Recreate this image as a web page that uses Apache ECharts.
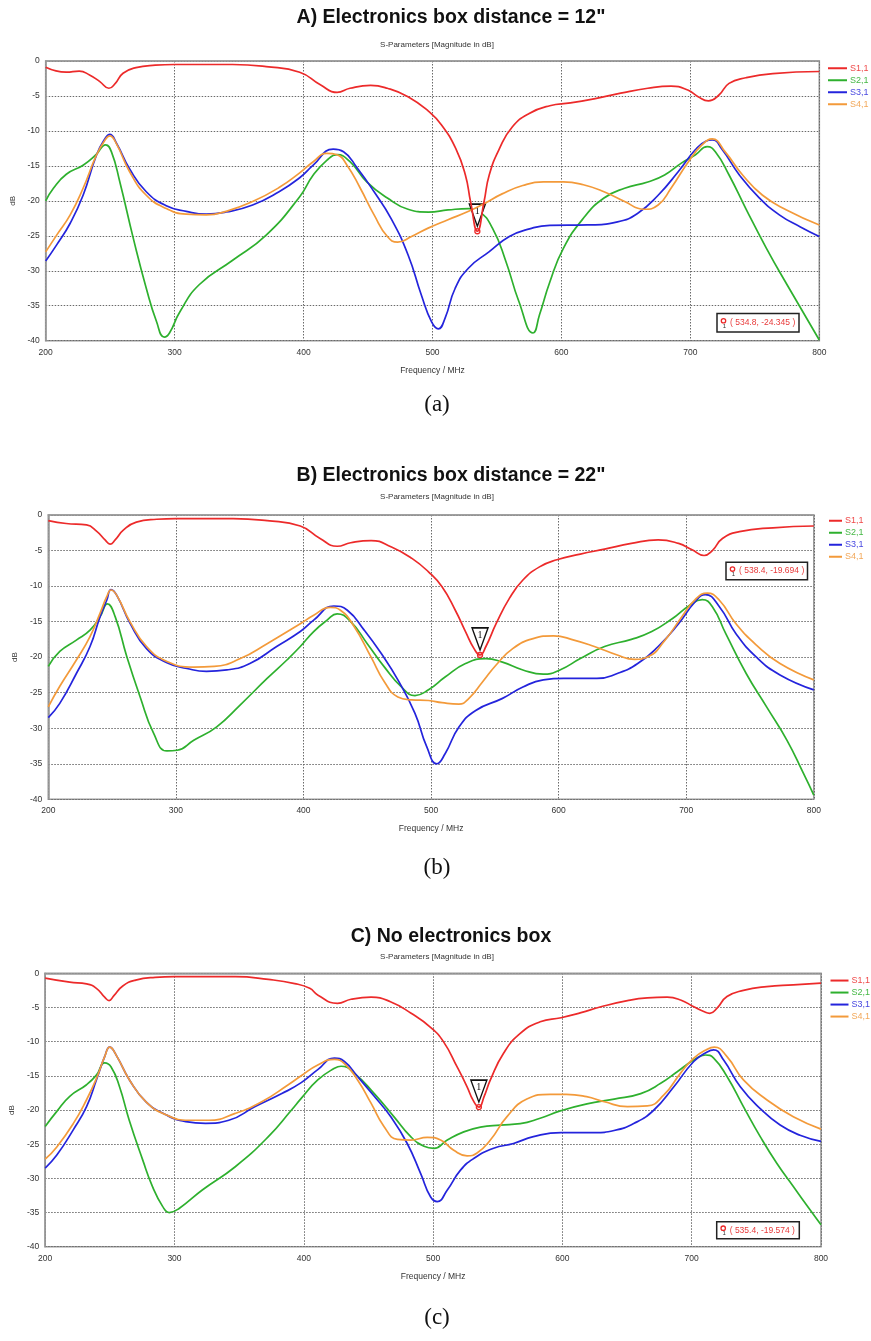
<!DOCTYPE html>
<html>
<head>
<meta charset="utf-8">
<script src="https://cdn.jsdelivr.net/npm/echarts@6/dist/echarts.min.js"></script>
<style>
  html, body { margin: 0; padding: 0; background: #ffffff; }
  #chart { width: 871px; height: 1341px; }
</style>
</head>
<body>
<div id="chart"></div>
<script>
// Frequency axis (MHz) and magnitude axis (dB) ticks
const freqTicks = [200, 300, 400, 500, 600, 700, 800];
const dbTicks = [0, -5, -10, -15, -20, -25, -30, -35, -40];
const seriesNames = ['S1,1', 'S2,1', 'S3,1', 'S4,1'];

// ---- A) Electronics box distance = 12"  : [MHz, dB]
const a_s11 = [[200,-0.9],[216,-1.6],[226,-1.45],[234,-2.0],[242,-2.95],[249,-3.9],[254,-3.2],[260,-1.75],[270,-0.95],[285,-0.6],[300,-0.5],[345,-0.5],[371,-0.8],[397,-1.6],[413,-3.4],[426,-4.5],[436,-3.9],[452,-3.5],[465,-3.9],[481,-5.1],[497,-7.2],[507,-9.15],[518,-12.5],[525.5,-16.3],[529.5,-20.1],[534.8,-24.345],[540,-20.1],[544,-16.3],[552,-12.5],[562,-9.4],[575,-7.5],[591,-6.4],[607,-6.0],[628,-5.3],[646,-4.6],[667,-3.9],[685,-3.6],[698,-4.15],[706,-5.1],[714,-5.7],[722,-4.9],[730,-3.2],[743,-2.4],[764,-1.8],[800,-1.5]];
const a_s21 = [[200,-20.0],[206,-18.2],[216,-16.2],[229,-14.9],[239,-13.4],[246.5,-12.0],[251,-13.0],[257.5,-17.3],[268,-25.4],[278,-32.5],[286,-37.3],[292,-39.5],[296,-38.9],[304,-35.9],[319,-32.0],[345,-28.5],[371,-24.9],[397,-19.4],[407.5,-16.3],[418,-14.2],[426,-13.4],[436,-14.4],[449,-17.3],[465,-19.6],[481,-21.2],[497,-21.6],[512,-21.3],[528,-21.1],[536,-21.5],[546.5,-23.9],[557,-28.7],[567,-34.4],[578,-38.9],[583,-36.3],[591,-31.6],[601.5,-26.8],[617,-22.5],[633,-19.6],[649,-18.2],[667,-17.3],[680,-16.3],[693,-14.6],[704,-13.4],[713,-12.25],[719.5,-13.0],[730,-16.3],[743,-21.1],[759,-26.8],[775,-32.0],[800,-39.9]];
const a_s31 = [[200,-28.6],[208.5,-26.3],[219,-23.2],[229,-19.2],[239.5,-13.4],[246,-11.1],[249.7,-10.5],[255,-11.8],[265,-15.4],[278,-18.7],[293.5,-20.7],[309,-21.5],[324.5,-21.9],[340,-21.6],[360.5,-20.6],[381,-18.7],[397,-16.7],[407.5,-14.9],[423,-12.6],[431,-12.97],[441.6,-15.3],[454.7,-18.7],[467.8,-22.5],[481,-27.7],[491.4,-33.5],[499.3,-37.3],[504.5,-38.3],[509.7,-36.8],[517.6,-32.5],[528,-29.6],[543.8,-27.3],[559.6,-25.1],[575.3,-24.0],[591,-23.5],[620,-23.45],[643.5,-23.0],[659,-21.8],[675,-19.2],[690.7,-15.8],[703.8,-12.7],[711.6,-11.5],[717,-11.3],[724.8,-12.7],[738,-16.3],[753.6,-19.6],[769,-22.0],[785,-23.7],[800,-25.1]];
const a_s41 = [[200,-27.3],[208.5,-24.9],[219,-22.0],[229,-18.2],[239.5,-13.4],[246,-11.3],[249.7,-10.7],[255,-11.9],[265,-15.8],[278,-19.2],[293.5,-21.1],[309,-21.9],[324.5,-22.0],[340,-21.5],[360.5,-20.1],[381,-18.1],[397,-16.0],[407.5,-14.4],[418,-13.2],[426,-13.4],[433.7,-14.9],[444,-18.2],[454.7,-22.0],[465,-25.1],[473,-25.9],[483.7,-25.1],[496.6,-23.9],[512,-22.7],[528,-21.5],[540,-20.4],[554,-19.0],[570,-17.8],[586,-17.3],[601.5,-17.3],[617,-17.7],[633,-18.7],[649,-20.1],[664,-21.2],[675,-20.6],[685,-18.2],[698.5,-14.4],[709,-12.0],[717,-11.15],[727,-13.0],[740.5,-16.3],[756,-19.2],[774.6,-21.3],[800,-23.45]];
const markerA = [534.8, -24.345];

// ---- B) Electronics box distance = 22"
const b_s11 = [[200,-0.8],[214,-1.2],[230,-1.4],[238,-2.3],[244.5,-3.5],[248.4,-4.1],[252.4,-3.5],[259,-2.1],[269,-1.0],[285,-0.6],[300,-0.5],[345,-0.5],[371.5,-0.8],[397.5,-1.55],[413,-3.3],[426.4,-4.4],[437,-3.9],[453,-3.6],[469,-4.5],[485,-6.1],[498,-8.0],[508.6,-10.1],[519,-13.4],[527,-16.4],[533.7,-18.8],[538.4,-19.694],[543,-18.5],[551,-15.3],[561.5,-11.7],[572,-9.15],[585,-7.3],[598.6,-6.3],[617,-5.5],[636,-4.8],[657,-4.0],[678,-3.5],[694,-4.0],[704.6,-4.9],[714,-5.7],[720.5,-5.0],[728.4,-3.3],[741.7,-2.35],[768,-1.8],[800,-1.55]];
const b_s21 = [[200,-21.3],[209,-19.2],[222,-17.6],[232.7,-16.2],[240.6,-14.3],[246.3,-12.5],[252.4,-14.3],[261.5,-19.9],[272,-25.6],[282.5,-30.7],[293,-33.2],[301,-33.1],[314,-31.7],[332,-29.8],[350.5,-26.7],[371.5,-23.0],[387,-20.4],[397.5,-18.5],[408,-16.4],[418.5,-14.8],[426.4,-13.9],[437,-15.0],[450,-18.1],[463.5,-21.4],[476.8,-24.2],[487.4,-25.4],[498,-24.6],[511,-22.8],[527,-20.9],[543,-20.2],[556,-20.7],[572,-21.8],[588,-22.4],[601,-21.8],[617,-20.2],[636,-18.5],[657,-17.5],[673,-16.4],[689,-14.6],[702,-12.8],[712.5,-11.9],[720.5,-12.9],[731,-16.7],[747,-22.3],[763,-27.0],[779,-31.7],[792,-36.4],[800,-39.4]];
const b_s31 = [[200,-28.5],[209,-26.5],[222,-22.3],[232.7,-18.5],[240.6,-14.3],[245.8,-12.0],[249.2,-10.5],[253.7,-11.3],[264,-15.2],[277,-18.8],[293,-20.8],[308.6,-21.6],[324,-22.0],[340,-21.8],[358,-20.9],[379,-18.5],[397.5,-16.4],[408,-14.8],[423.8,-12.8],[434.4,-13.4],[447.6,-16.2],[461,-19.5],[474,-23.2],[487.4,-27.9],[496.6,-32.6],[504.6,-35.0],[511,-33.6],[522,-29.8],[535,-27.5],[556,-25.8],[572,-24.2],[588,-23.2],[604,-23.0],[630,-23.0],[646,-22.3],[662,-20.9],[678,-18.5],[694,-15.3],[707,-12.2],[715,-11.2],[726,-12.9],[739,-16.7],[755,-20.0],[773.5,-22.5],[800,-24.6]];
const b_s41 = [[200,-27.0],[209,-24.1],[222,-20.4],[232.7,-17.1],[240.6,-13.8],[245.8,-11.5],[249.2,-10.55],[253.7,-11.3],[264,-15.0],[277,-18.5],[293,-20.6],[314,-21.4],[330,-21.3],[350.5,-20.2],[371.5,-18.1],[397.5,-15.3],[408,-14.1],[421,-13.0],[429,-13.4],[439.7,-15.7],[453,-20.0],[463.5,-23.5],[474,-25.6],[484.7,-26.0],[498,-26.1],[508.6,-26.4],[521.8,-26.6],[529.7,-25.8],[540.3,-23.5],[551,-21.1],[564,-18.8],[580,-17.4],[596,-17.0],[612,-17.6],[628,-18.5],[646,-19.7],[659.5,-20.3],[670,-19.95],[683.4,-17.6],[696.6,-14.3],[707,-11.9],[716.5,-11.0],[726,-12.0],[739,-15.3],[755,-18.3],[773.5,-20.9],[800,-23.2]];
const markerB = [538.4, -19.694];

// ---- C) No electronics box
const c_s11 = [[200,-0.7],[219,-1.3],[232,-1.55],[239.6,-2.2],[246,-3.5],[249.4,-4.0],[253,-3.3],[260,-1.85],[270,-1.0],[285,-0.6],[300,-0.5],[347,-0.5],[372.6,-0.9],[393,-1.5],[404.6,-2.2],[411,-3.2],[426,-4.4],[436.5,-3.8],[452,-3.5],[467,-4.15],[483,-5.85],[498,-7.9],[508,-10.0],[518.6,-13.7],[526.3,-16.6],[531,-18.6],[535.4,-19.574],[539.5,-18.0],[544.3,-15.6],[554.5,-11.7],[567.4,-8.8],[582.8,-7.1],[599,-6.5],[614.4,-5.75],[629.8,-4.9],[650.3,-4.0],[665.7,-3.6],[681,-3.5],[691.4,-3.9],[701.6,-4.9],[709.3,-5.6],[714,-5.85],[719.6,-5.1],[727.3,-3.4],[740,-2.5],[758,-1.95],[778.6,-1.7],[800,-1.45]];
const c_s21 = [[200,-22.4],[209,-20.2],[219,-18.0],[232,-16.3],[239.6,-14.9],[246,-13.1],[251,-13.7],[257.5,-16.6],[265,-21.5],[275.4,-27.3],[283,-31.2],[290.8,-34.1],[296,-35.0],[303.6,-34.4],[321.5,-31.7],[347,-28.3],[372.6,-23.9],[390.5,-20.0],[398,-18.3],[410.8,-15.6],[423.7,-13.9],[428.8,-13.6],[439,-14.6],[454.5,-17.6],[469.8,-21.0],[482.7,-23.9],[493,-25.3],[500.6,-25.6],[511,-24.4],[523.7,-23.2],[536.6,-22.5],[552,-22.2],[567.4,-22.0],[582.8,-21.2],[599,-20.1],[619,-19.1],[640,-18.4],[660.6,-17.6],[676,-16.1],[688.8,-14.4],[701.6,-12.7],[710.6,-11.95],[717,-12.4],[727.3,-15.1],[740,-19.5],[753,-23.9],[765.8,-27.8],[778.6,-31.2],[791.5,-34.6],[800,-36.8]];
const c_s31 = [[200,-28.5],[209,-26.6],[221.7,-22.9],[232,-19.5],[239.6,-15.6],[246,-12.2],[249.9,-10.8],[255,-12.0],[265.2,-15.6],[278,-18.8],[293.4,-20.7],[308.7,-21.7],[324,-21.95],[342,-21.5],[362.4,-19.5],[383,-17.6],[398,-16.0],[410.8,-14.1],[423.7,-12.4],[431.4,-12.9],[441.6,-15.1],[454.5,-18.0],[467.3,-21.0],[480,-24.9],[490.4,-29.3],[498,-32.7],[503.2,-33.4],[511,-31.7],[521.2,-28.8],[531.4,-27.1],[546.8,-25.6],[562.2,-24.9],[577.6,-23.9],[599,-23.3],[625,-23.3],[640,-23.0],[655.5,-21.95],[670.8,-20.0],[686.2,-16.6],[701.6,-12.9],[712,-11.5],[717,-11.2],[724.7,-12.7],[737.6,-16.6],[753,-19.8],[768.4,-22.2],[783.8,-23.7],[800,-24.6]];
const c_s41 = [[200,-27.2],[209,-25.4],[221.7,-22.0],[232,-18.5],[239.6,-15.4],[246,-12.2],[249.9,-10.8],[255,-12.0],[265.2,-15.6],[278,-18.8],[293.4,-20.7],[311,-21.5],[326.6,-21.5],[347,-20.5],[367.5,-18.8],[388,-16.3],[398,-15.0],[410.8,-13.4],[423.7,-12.6],[431.4,-13.2],[441.6,-15.6],[452,-19.0],[462,-22.4],[472.4,-24.3],[482.7,-24.4],[495.5,-24.0],[505.8,-24.4],[516,-25.9],[526.3,-26.7],[534,-26.3],[544.3,-24.4],[557,-21.0],[572.5,-18.4],[590.5,-17.7],[603,-17.7],[618.7,-18.05],[632.4,-18.8],[650.3,-19.5],[665.7,-19.4],[678.5,-17.8],[691.4,-14.6],[701.6,-12.4],[712,-11.1],[717.5,-10.8],[727.3,-12.2],[740,-15.6],[758,-18.5],[778.6,-21.0],[800,-22.8]];
const markerC = [535.4, -19.574];

// ---------------------------------------------------------------
const lineColors = ['#ec2a2a', '#2eb02e', '#2424dc', '#f39a3a'];
const legendTextColors = ['#ef4a4a', '#45b845', '#4848e0', '#f2a85a'];
const sansFont = '"Liberation Sans", Arial, sans-serif';
const serifFont = '"Liberation Serif", "DejaVu Serif", serif';

const panels = [
  { title: 'A) Electronics box distance = 12"', titleY: 18, subY: 45, caption: '(a)', capY: 405,
    grid: { left: 45.7, top: 61, width: 773.6, height: 279.7 },
    legend: { left: 828, top: 63, line: 19 },
    readout: { x: 717, y: 313.5, w: 82, h: 18.5 },
    data: [a_s11, a_s21, a_s31, a_s41], marker: markerA },
  { title: 'B) Electronics box distance = 22"', titleY: 476, subY: 497, caption: '(b)', capY: 868,
    grid: { left: 48.3, top: 515, width: 765.5, height: 284.3 },
    legend: { left: 829, top: 515.5, line: 13 },
    readout: { x: 726, y: 562.3, w: 81.5, h: 17.5 },
    data: [b_s11, b_s21, b_s31, b_s41], marker: markerB },
  { title: 'C) No electronics box', titleY: 937, subY: 957, caption: '(c)', capY: 1318,
    grid: { left: 41.7, top: 973.3, width: 779.3, height: 273.4 },
    legend: { left: 830.5, top: 975.3, line: 18 },
    readout: { x: 716.7, y: 1221.7, w: 82.6, h: 17 },
    data: [c_s11, c_s21, c_s31, c_s41], marker: markerC }
];

const grids = [], xAxes = [], yAxes = [], series = [], legends = [], graphics = [];

panels.forEach((p, i) => {
  grids.push(Object.assign({ show: true, borderColor: '#9a9a9a', borderWidth: 1.6,
                             backgroundColor: 'transparent', containLabel: false }, p.grid));

  xAxes.push({
    type: 'value', gridIndex: i, min: freqTicks[0], max: freqTicks[freqTicks.length - 1], interval: 100,
    name: 'Frequency / MHz', nameLocation: 'middle', nameGap: 25,
    nameTextStyle: { fontFamily: sansFont, fontSize: 8.5, color: '#333' },
    axisLine: { show: true, lineStyle: { color: '#9a9a9a', width: 1.6 } },
    axisTick: { show: false },
    axisLabel: { fontFamily: sansFont, fontSize: 8.5, color: '#333', margin: 7 },
    splitLine: { show: true, lineStyle: { color: '#6a6a6a', width: 1, type: [1.5, 1.5] } }
  });

  yAxes.push({
    type: 'value', gridIndex: i, min: dbTicks[dbTicks.length - 1], max: dbTicks[0], interval: 5,
    name: 'dB', nameLocation: 'middle', nameGap: 27, nameRotate: 90,
    nameTextStyle: { fontFamily: sansFont, fontSize: 8, color: '#333' },
    axisLine: { show: true, lineStyle: { color: '#9a9a9a', width: 1.6 } },
    axisTick: { show: false },
    axisLabel: { fontFamily: sansFont, fontSize: 8.5, color: '#333', margin: 6 },
    splitLine: { show: true, lineStyle: { color: '#6a6a6a', width: 1, type: [1.5, 1.5] } }
  });

  p.data.forEach((d, k) => {
    const s = {
      type: 'line', name: seriesNames[k], xAxisIndex: i, yAxisIndex: i,
      data: d, smooth: 0.5, symbol: 'none', clip: true, z: 3 + k,
      lineStyle: { color: lineColors[k], width: 1.7 },
      itemStyle: { color: lineColors[k] },
      emphasis: { disabled: true }
    };
    if (k === 0) {
      s.z = 7;
      s.markPoint = {
        silent: true,
        animation: false,
        data: [
          { coord: p.marker, symbol: 'path://M0,0 L16,0 L8,22 Z', symbolKeepAspect: false,
            symbolSize: [16, 22], symbolOffset: [0, -16],
            itemStyle: { color: '#ffffff', borderColor: '#111', borderWidth: 1.5 },
            label: { show: true, formatter: '1', position: 'inside', offset: [0, -4],
                     fontFamily: serifFont, fontSize: 10, color: '#111' } },
          { coord: p.marker, symbol: 'circle', symbolSize: 5,
            itemStyle: { color: '#ffffff', borderColor: lineColors[0], borderWidth: 1.3 },
            label: { show: false } }
        ]
      };
    }
    series.push(s);
  });

  legends.push({
    orient: 'vertical', left: p.legend.left, top: p.legend.top, padding: 0,
    itemWidth: p.legend.line, itemHeight: 2, itemGap: 1.5, icon: 'rect',
    selectedMode: false,
    textStyle: { fontFamily: sansFont, fontSize: 9, lineHeight: 10.5, padding: [0, 0, 0, -2] },
    data: seriesNames.map((n, k) => ({ name: n, textStyle: { color: legendTextColors[k] } }))
  });

  graphics.push(
    { type: 'text', x: 451, y: p.titleY, style: { text: p.title, fill: '#111',
      font: 'bold 19.5px ' + sansFont, textAlign: 'center', textVerticalAlign: 'middle' } },
    { type: 'text', x: 437, y: p.subY, style: { text: 'S-Parameters [Magnitude in dB]', fill: '#333',
      font: '8px ' + sansFont, textAlign: 'center', textVerticalAlign: 'middle' } },
    { type: 'text', x: 437, y: p.capY, style: { text: p.caption, fill: '#111',
      font: '23px ' + serifFont, textAlign: 'center', textVerticalAlign: 'middle' } }
  );

  // marker readout box
  const r = p.readout;
  const readoutText = '( ' + p.marker[0].toFixed(1) + ', ' + p.marker[1].toFixed(3) + ' )';
  graphics.push({
    type: 'group', x: r.x, y: r.y, z: 20,
    children: [
      { type: 'rect', shape: { x: 0, y: 0, width: r.w, height: r.h },
        style: { fill: '#ffffff', stroke: '#222', lineWidth: 1.5 } },
      { type: 'circle', shape: { cx: 6.5, cy: r.h / 2 - 2, r: 2.2 },
        style: { fill: '#fff', stroke: lineColors[0], lineWidth: 1.3 } },
      { type: 'text', x: 7.5, y: r.h / 2 + 3.5, style: { text: '1', fill: '#333',
        font: '6px ' + sansFont, textAlign: 'center', textVerticalAlign: 'middle' } },
      { type: 'text', x: 13, y: r.h / 2, style: { text: readoutText, fill: '#e83a3a',
        font: '8.5px ' + sansFont, textAlign: 'left', textVerticalAlign: 'middle' } }
    ]
  });
});

const chart = echarts.init(document.getElementById('chart'), null, { renderer: 'canvas' });
chart.setOption({
  animation: false,
  backgroundColor: '#ffffff',
  grid: grids,
  xAxis: xAxes,
  yAxis: yAxes,
  legend: legends,
  series: series,
  graphic: graphics
});
</script>
</body>
</html>
